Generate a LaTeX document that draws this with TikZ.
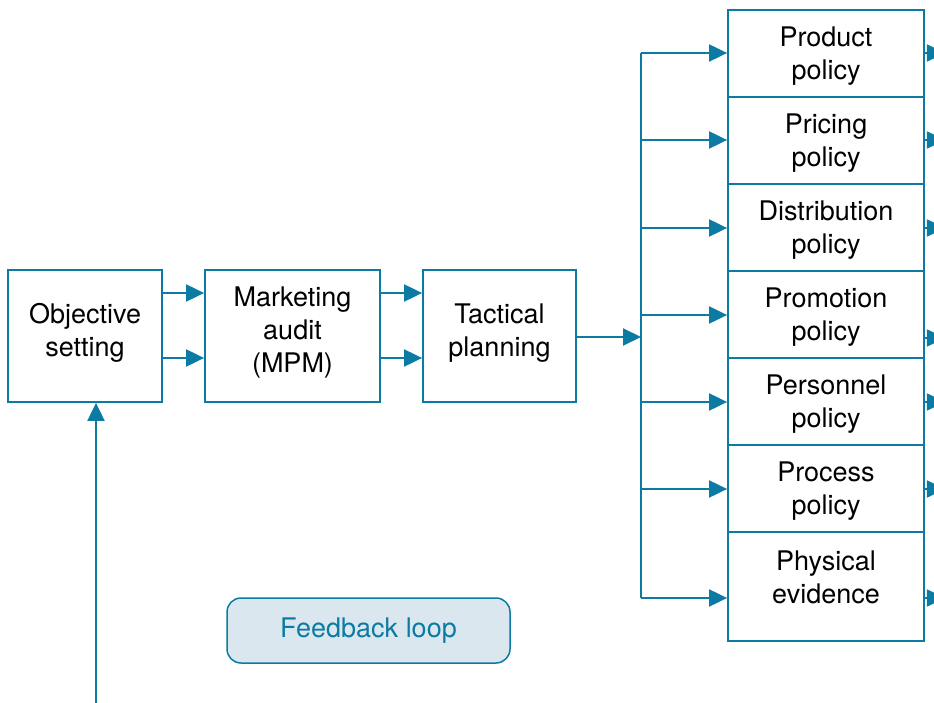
\documentclass[tikz,border=0pt]{standalone}
\usepackage{fontspec}
\setmainfont{TeX Gyre Heros}
\usetikzlibrary{arrows.meta,positioning}
\definecolor{teal1}{HTML}{0B7BA3}
\definecolor{fbfill}{HTML}{DAE7EF}
\begin{document}
\begin{tikzpicture}[x=1pt,y=-1pt,
  every node/.style={font=\fontsize{27}{33}\selectfont, align=center, inner sep=0pt},
  box/.style={draw=teal1, line width=1.8pt, rectangle, minimum height=132pt},
  stackbox/.style={draw=teal1, line width=1.8pt, rectangle, minimum width=196pt, minimum height=87pt},
  arr/.style={draw=teal1, line width=2pt, -{Triangle[length=18pt,width=17pt]}},
  ln/.style={draw=teal1, line width=2pt}]
\useasboundingbox (0,0) rectangle (934,703);
% main boxes
\node[box, minimum width=154pt] (obj) at (85,336) {Objective\\setting\\[-21pt]};
\node[box, minimum width=175pt] (aud) at (292.5,336) {Marketing\\audit\\(MPM)\\[-21pt]};
\node[box, minimum width=153pt] (tac) at (499.5,336) {Tactical\\planning\\[-21pt]};
% stack
\node[stackbox] (s1) at (826,53.5) {\\[-8pt]Product\\policy};
\node[stackbox] (s2) at (826,140.5) {\\[-8pt]Pricing\\policy};
\node[stackbox] (s3) at (826,227.5) {\\[-8pt]Distribution\\policy};
\node[stackbox] (s4) at (826,314.5) {\\[-8pt]Promotion\\policy};
\node[stackbox] (s5) at (826,401.5) {\\[-8pt]Personnel\\policy};
\node[stackbox] (s6) at (826,488.5) {\\[-8pt]Process\\policy};
\node[stackbox, minimum height=109pt] (s7) at (826,586.5) {};
\node (s7t) at (826,577) {Physical\\evidence};
% feedback
\node[draw=teal1, fill=fbfill, line width=1.5pt, rounded corners=14pt,
  minimum width=283pt, minimum height=65pt, text=teal1] (fb) at (368.5,630.5) {Feedback loop};
% arrows obj -> audit -> tactical
\draw[arr] (obj.east |- 0,293) -- (aud.west |- 0,293);
\draw[arr] (obj.east |- 0,358) -- (aud.west |- 0,358);
\draw[arr] (aud.east |- 0,293) -- (tac.west |- 0,293);
\draw[arr] (aud.east |- 0,358) -- (tac.west |- 0,358);
% bus
\coordinate (bt) at (641,53);
\coordinate (bb) at (641,598);
\draw[ln] (bt) -- (bb);
\draw[arr] (tac.east |- 0,337) -- (bt |- 0,337);
\draw[arr] (bt) -- (bt -| s1.west);
\draw[arr] (bt |- 0,140) -- (s2.west |- 0,140);
\draw[arr] (bt |- 0,228) -- (s3.west |- 0,228);
\draw[arr] (bt |- 0,315) -- (s4.west |- 0,315);
\draw[arr] (bt |- 0,402) -- (s5.west |- 0,402);
\draw[arr] (bt |- 0,489) -- (s6.west |- 0,489);
\draw[arr] (bb) -- (bb -| s7.west);
% outgoing arrows at right edge
\draw[arr] (s1.east |- 0,53) -- ++(20,0);
\draw[arr] (s2.east |- 0,140) -- ++(20,0);
\draw[arr] (s3.east |- 0,228) -- ++(20,0);
\draw[arr] (s4.east |- 0,338) -- ++(20,0);
\draw[arr] (s5.east |- 0,402) -- ++(20,0);
\draw[arr] (s6.east |- 0,489) -- ++(20,0);
\draw[arr] (s7.east |- bb) -- ++(20,0);
% feedback upward arrow
\coordinate (fbb) at (96,703);
\draw[arr] (fbb) -- (fbb |- obj.south);
\end{tikzpicture}
\end{document}
